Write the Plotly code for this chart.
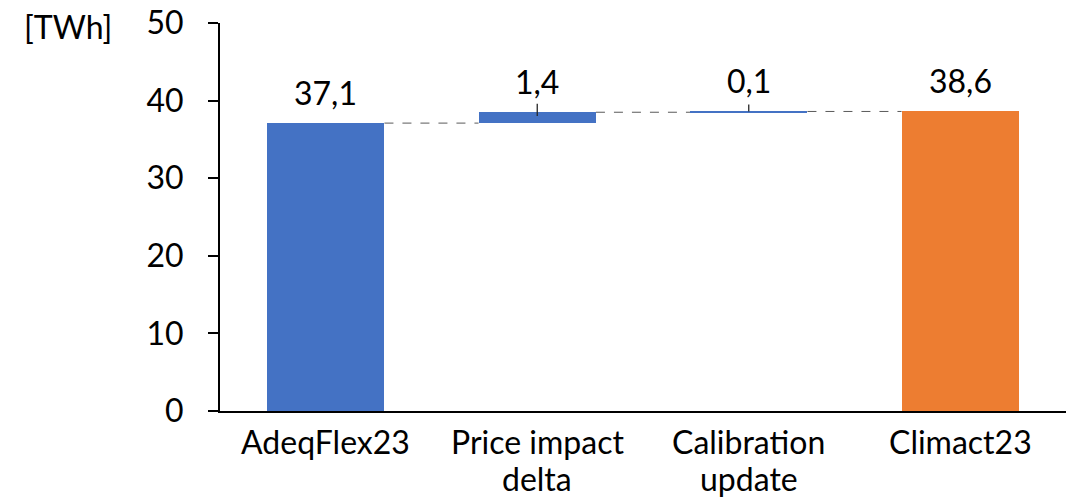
import plotly.graph_objects as go

# Energy bridge between the two scenarios, in TWh
categories = ["AdeqFlex23", "Price impact<br>delta", "Calibration<br>update", "Climact23"]
values = [37.1, 1.4, 0.1, 38.6]
measures = ["absolute", "relative", "relative", "total"]
y_ticks = [0, 10, 20, 30, 40, 50]
unit_label = "[TWh]"

BLUE = "#4472C4"
ORANGE = "#ED7D31"
FONT = "Lato"
FONT_SIZE = 32
BAR_WIDTH = 0.555
LINE_STEP = 37  # px between category label lines

# Work out floating bar bases/tops from the measures
bases, tops = [], []
running = 0.0
for v, m in zip(values, measures):
    if m == "absolute":
        base, top = 0.0, v
        running = v
    elif m == "relative":
        base, top = running, running + v
        running = top
    else:  # total
        base, top = 0.0, v
    bases.append(base)
    tops.append(top)

colors = [ORANGE if m == "total" else BLUE for m in measures]
xs = list(range(len(categories)))

fig = go.Figure()

fig.add_trace(go.Bar(
    x=xs,
    y=[t - b for t, b in zip(tops, bases)],
    base=bases,
    width=BAR_WIDTH,
    marker=dict(color=colors, line=dict(width=0)),
    hoverinfo="skip",
    showlegend=False,
))

# Short leader marks on the incremental bars
rel_idx = [i for i, m in enumerate(measures) if m == "relative"]
lead_up = {1: 1.1, 2: 0.9}
lead_down = {1: 0.5, 2: 0.0}
fig.add_trace(go.Scatter(
    x=[xs[i] for i in rel_idx],
    y=[tops[i] for i in rel_idx],
    mode="markers",
    marker=dict(size=0.1, color="rgba(0,0,0,0)"),
    error_y=dict(
        type="data", symmetric=False,
        array=[lead_up.get(i, 0.8) for i in rel_idx],
        arrayminus=[lead_down.get(i, 0.0) for i in rel_idx],
        color="#262626", thickness=1.3, width=0,
    ),
    hoverinfo="skip",
    showlegend=False,
))

# Dashed connectors between consecutive bars at the running level
for i in range(len(categories) - 1):
    level = tops[i]
    fig.add_shape(
        type="line", xref="x", yref="y",
        x0=xs[i] + BAR_WIDTH / 2, x1=xs[i + 1] - BAR_WIDTH / 2,
        y0=level, y1=level,
        line=dict(color="#595959", width=1, dash="dash"),
        layer="below",
    )

# Value labels above each bar
for i, v in enumerate(values):
    fig.add_annotation(
        x=xs[i], y=tops[i], xref="x", yref="y",
        text=f"{v:.1f}".replace(".", ","),
        showarrow=False, yanchor="bottom", yshift=9,
        font=dict(family=FONT, size=FONT_SIZE, color="#000000"),
    )

# Category labels below the axis, one annotation per line for tight spacing
for i, cat in enumerate(categories):
    for k, line in enumerate(cat.split("<br>")):
        fig.add_annotation(
            x=xs[i], y=0, xref="x", yref="paper",
            text=line, showarrow=False,
            xanchor="center", yanchor="middle",
            yshift=-30 - LINE_STEP * k,
            font=dict(family=FONT, size=FONT_SIZE, color="#000000"),
        )

fig.add_annotation(
    x=0, y=1, xref="paper", yref="paper",
    text=unit_label, showarrow=False,
    xanchor="right", yanchor="middle", xshift=-106, yshift=-3,
    font=dict(family=FONT, size=FONT_SIZE, color="#000000"),
)

fig.update_layout(
    width=1071, height=500,
    margin=dict(l=220, r=5, t=23, b=89, autoexpand=False),
    paper_bgcolor="white", plot_bgcolor="white",
    font=dict(family=FONT, size=FONT_SIZE, color="#000000"),
    bargap=0,
    xaxis=dict(
        range=[-0.5, len(categories) - 0.5],
        tickvals=xs, showticklabels=False,
        showgrid=False, zeroline=False,
        showline=True, linecolor="#000000", linewidth=2,
        ticks="", automargin=False,
        fixedrange=True,
    ),
    yaxis=dict(
        range=[0, 50],
        tickvals=y_ticks,
        showgrid=False, zeroline=False,
        showline=True, linecolor="#000000", linewidth=2,
        ticks="outside", ticklen=10, tickwidth=2, tickcolor="#000000",
        ticklabelstandoff=18, automargin=False,
        tickfont=dict(family=FONT, size=FONT_SIZE, color="#000000"),
        fixedrange=True,
    ),
)

fig.write_html("out.html")
